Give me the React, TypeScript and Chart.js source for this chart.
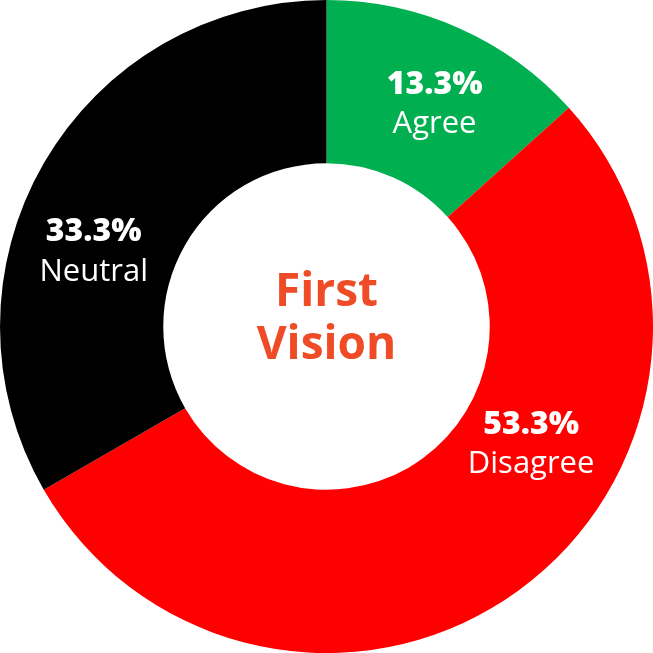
import React, { useEffect, useRef } from "react";
import { Chart, registerables } from "chart.js";

Chart.register(...registerables);

const categories = ["Agree", "Disagree", "Neutral"];
const values = [13.3, 53.3, 33.3];
const percentLabels = ["13.3%", "53.3%", "33.3%"];
const colors = ["#00B050", "#FF0000", "#000000"];
const centerLines = ["First", "Vision"];

// label anchor inside each slice: fraction along the slice angle, fraction across ring width
const labelAngleFrac = [0.5375, 0.373, 0.401];
const labelRadiusFrac = [0.523, 0.441, 0.5];

const FONT = '"Open Sans", "Noto Sans", sans-serif';

const labelPlugin = {
  id: "sliceLabels",
  afterDatasetsDraw(chart: any) {
    const ctx = chart.ctx;
    const meta = chart.getDatasetMeta(0);
    ctx.save();
    ctx.textAlign = "center";
    ctx.textBaseline = "middle";
    ctx.fillStyle = "#FFFFFF";
    meta.data.forEach((arc: any, i: number) => {
      const p = arc.getProps(["x", "y", "startAngle", "endAngle", "innerRadius", "outerRadius"], true);
      const a = p.startAngle + labelAngleFrac[i] * (p.endAngle - p.startAngle);
      const r = p.innerRadius + labelRadiusFrac[i] * (p.outerRadius - p.innerRadius);
      const x = p.x + Math.cos(a) * r;
      const y = p.y + Math.sin(a) * r;
      ctx.font = `800 32px ${FONT}`;
      ctx.fillText(percentLabels[i], x, y - 18);
      ctx.font = `31px ${FONT}`;
      ctx.fillText(categories[i], x, y + 22);
    });
    // center text
    const a0 = meta.data[0];
    const cx = a0.x;
    const cy = a0.y;
    ctx.fillStyle = "#EF4B26";
    ctx.font = `bold 46px ${FONT}`;
    ctx.fillText(centerLines[0], cx, cy - 34);
    ctx.fillText(centerLines[1], cx, cy + 19);
    ctx.restore();
  },
};

export default function App() {
  const ref = useRef<HTMLCanvasElement>(null);
  useEffect(() => {
    let chart: Chart | null = null;
    let cancelled = false;
    const make = () => {
      if (cancelled || !ref.current) return;
      chart = new Chart(ref.current, {
        type: "doughnut",
        data: {
          labels: categories,
          datasets: [
            {
              data: values,
              backgroundColor: colors,
              borderWidth: 0,
            },
          ],
        },
        options: {
          animation: false,
          responsive: false,
          cutout: "50%",
          layout: { padding: 0 },
          plugins: {
            legend: { display: false },
            tooltip: { enabled: false },
          },
        },
        plugins: [labelPlugin],
      });
    };
    Promise.all([
      document.fonts.load(`bold 46px "Open Sans"`),
      document.fonts.load(`800 32px "Open Sans"`),
      document.fonts.load(`31px "Open Sans"`),
    ])
      .catch(() => {})
      .then(make);
    return () => {
      cancelled = true;
      if (chart) chart.destroy();
    };
  }, []);
  return (
    <div style={{ position: "fixed", left: 0, top: 0, width: 653, height: 653, background: "#fff" }}>
      <canvas ref={ref} width={653} height={653} style={{ width: 653, height: 653 }} />
    </div>
  );
}
